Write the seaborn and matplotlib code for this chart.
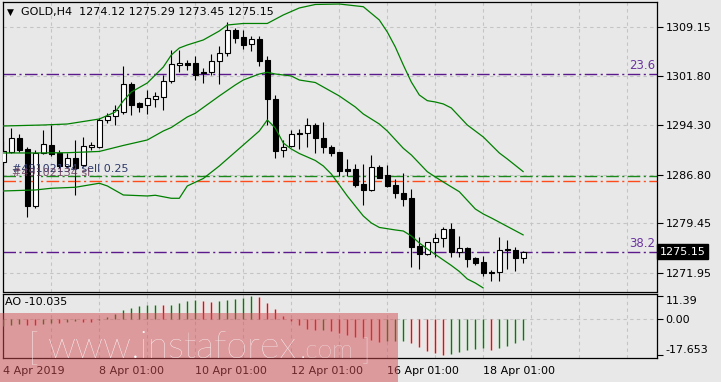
import numpy as np
import pandas as pd
import matplotlib
matplotlib.use("Agg")
import matplotlib.pyplot as plt
import seaborn as sns
from matplotlib.patches import Rectangle

sns.set_style("white")
plt.rcParams['font.family'] = ['DejaVu Sans']

# ---------------- data ----------------
opens = [1288.78, 1290.30, 1292.33, 1290.66, 1282.06, 1290.14, 1291.31, 1290.14, 1288.13, 1289.29,
         1288.28, 1291.08, 1291.05, 1295.10, 1295.71, 1296.36, 1300.56, 1297.63, 1297.37, 1298.33,
         1298.63, 1301.06, 1303.39, 1303.69, 1303.74, 1302.38, 1302.30, 1304.00, 1305.21, 1308.74,
         1307.61, 1306.57, 1307.35, 1304.16, 1298.28, 1290.48, 1291.16, 1293.18, 1293.08, 1294.34,
         1292.33, 1291.05, 1290.25, 1287.63, 1287.67, 1285.40, 1284.49, 1287.98, 1286.76, 1285.25,
         1284.08, 1283.23, 1276.00, 1274.74, 1276.56, 1277.17, 1278.58, 1275.05, 1275.65, 1274.14,
         1273.53, 1272.06, 1272.01, 1275.44, 1275.39, 1274.12]
highs = [1291.92, 1293.89, 1292.98, 1291.05, 1290.55, 1293.58, 1294.34, 1290.55, 1290.10, 1292.07,
         1292.57, 1291.81, 1295.40, 1296.12, 1297.37, 1303.29, 1300.91, 1297.87, 1299.65, 1299.39,
         1301.92, 1305.71, 1305.71, 1304.20, 1304.80, 1303.03, 1305.10, 1306.39, 1310.00, 1309.00,
         1308.70, 1307.79, 1307.83, 1304.77, 1298.89, 1292.07, 1293.51, 1293.69, 1295.36, 1294.60,
         1294.75, 1291.31, 1290.25, 1289.19, 1288.43, 1288.43, 1289.80, 1288.28, 1288.28, 1286.11,
         1287.02, 1284.60, 1277.32, 1276.65, 1277.93, 1278.84, 1279.53, 1277.52, 1275.80, 1274.29,
         1274.49, 1272.36, 1277.32, 1276.91, 1275.80, 1275.29]
lows = [1288.28, 1290.10, 1290.30, 1280.35, 1281.76, 1289.95, 1289.64, 1287.82, 1287.82, 1283.73,
        1287.98, 1290.55, 1290.81, 1294.69, 1294.34, 1296.01, 1295.86, 1296.36, 1296.01, 1297.12,
        1296.62, 1300.66, 1302.42, 1302.68, 1301.16, 1300.66, 1301.92, 1300.48, 1304.73, 1306.70,
        1305.86, 1305.56, 1303.24, 1294.34, 1289.29, 1289.49, 1291.01, 1290.66, 1290.96, 1290.14,
        1290.14, 1289.64, 1286.61, 1286.61, 1284.99, 1282.22, 1284.38, 1286.26, 1284.90, 1283.32,
        1282.06, 1272.86, 1272.51, 1274.64, 1274.29, 1275.90, 1274.29, 1274.29, 1272.77, 1273.12,
        1271.45, 1270.74, 1270.74, 1272.47, 1272.26, 1273.45]
closes = [1290.45, 1292.33, 1290.55, 1282.06, 1290.14, 1291.46, 1289.95, 1288.13, 1289.34, 1287.78,
          1291.16, 1291.24, 1295.10, 1295.71, 1296.62, 1300.56, 1297.37, 1297.03, 1298.39, 1298.74,
          1301.06, 1303.59, 1303.79, 1303.48, 1301.92, 1302.15, 1304.04, 1305.26, 1308.70, 1307.48,
          1306.47, 1307.35, 1304.09, 1298.21, 1290.40, 1290.93, 1292.98, 1292.93, 1294.34, 1292.42,
          1290.96, 1290.14, 1287.42, 1287.37, 1285.25, 1284.49, 1287.93, 1286.38, 1285.10, 1283.99,
          1283.17, 1275.90, 1274.74, 1276.56, 1277.17, 1278.53, 1275.05, 1275.65, 1274.08, 1273.47,
          1271.86, 1271.86, 1275.39, 1275.35, 1274.12, 1275.15]

ao_values = [-3.4, -2.8, -2.3, -2.6, -2.9, -2.2, -1.6, -1.8, -1.3, -1.0, -1.2, -1.3,
             -0.3, 1.3, 2.8, 4.5, 5.4, 6.4, 6.9, 7.2, 6.8, 7.1, 7.8, 8.8,
             9.4, 9.1, 8.6, 8.9, 9.5, 10.0, 10.6, 11.39, 11.0, 8.0, 5.0, 1.8,
             -0.8, -3.0, -4.6, -5.3, -5.1, -5.9, -6.8, -7.6, -8.6, -9.3, -10.3, -11.0,
             -10.8, -10.6, -10.4, -11.6, -13.4, -15.3, -16.2, -17.653, -16.8, -15.9, -15.0, -14.3,
             -14.0, -14.9, -13.8, -12.9, -11.5, -10.035]

upper_idx = [0, 5, 8, 12, 14, 15, 16, 18, 20, 21, 22, 23, 25, 27, 28, 30, 33, 35, 37, 39, 42,
             45, 47, 48, 49, 50, 51, 52, 53, 54, 55, 56, 58, 60, 62, 63, 65]
upper_vals = [1294.19, 1294.34, 1294.49, 1295.25, 1296.31, 1298.00, 1299.34, 1300.71, 1303.13,
              1304.95, 1306.01, 1306.47, 1307.23, 1308.59, 1309.50, 1309.73, 1309.73, 1311.02,
              1312.08, 1312.61, 1312.68, 1312.27, 1310.26, 1308.44, 1306.17, 1303.44, 1300.86,
              1298.89, 1298.03, 1297.83, 1297.53, 1296.92, 1294.34, 1292.52, 1290.10, 1289.19, 1287.26]
middle_idx = [0, 4, 8, 12, 15, 18, 20, 21, 23, 24, 27, 29, 30, 32, 33, 34, 36, 37, 39, 40, 42,
              44, 45, 47, 48, 50, 51, 53, 54, 55, 57, 59, 60, 61, 65]
middle_vals = [1290.10, 1290.10, 1290.14, 1290.33, 1291.24, 1292.07, 1293.43, 1293.96, 1295.56,
               1296.12, 1298.74, 1300.41, 1301.16, 1302.07, 1302.33, 1302.07, 1301.77, 1301.16,
               1300.78, 1300.10, 1298.74, 1297.07, 1296.01, 1294.49, 1293.43, 1290.81, 1289.80,
               1287.26, 1286.46, 1285.70, 1284.23, 1281.61, 1280.85, 1280.25, 1277.67]
lower_idx = [0, 4, 6, 9, 12, 13, 15, 18, 19, 21, 22, 23, 25, 27, 29, 31, 32, 33, 34, 35, 36, 37,
             39, 40, 41, 42, 43, 44, 45, 46, 47, 49, 50, 51, 52, 53, 54, 55, 56, 57, 58, 59, 60]
lower_vals = [1284.34, 1284.49, 1284.75, 1284.90, 1285.51, 1285.10, 1283.73, 1283.58, 1283.69,
              1283.23, 1283.23, 1285.10, 1286.23, 1288.13, 1290.25, 1292.37, 1293.43, 1295.10,
              1293.89, 1291.61, 1290.70, 1290.02, 1288.96, 1288.13, 1286.91, 1285.25, 1283.58,
              1282.06, 1280.55, 1279.49, 1278.81, 1278.43, 1278.27, 1277.52, 1276.46, 1275.55,
              1274.71, 1273.88, 1273.05, 1272.14, 1271.00, 1270.39, 1269.63]

price_ticks = [1309.15, 1301.80, 1294.30, 1286.80, 1279.45, 1271.95]
price_labels = ["1309.15", "1301.80", "1294.30", "1286.80", "1279.45", "1271.95"]
ao_ticks = [11.39, 0.0, -17.653]
ao_labels = ["11.39", "0.00", "-17.653"]
date_idx = [0, 12, 24, 36, 48, 60]
date_labels = ["4 Apr 2019", "8 Apr 01:00", "10 Apr 01:00", "12 Apr 01:00", "16 Apr 01:00", "18 Apr 01:00"]
fib_levels = [1302.07, 1275.09]
fib_labels = ["23.6", "38.2"]
order_level = 1286.61
stop_level = 1285.85
last_price = 1275.15
title_text = "GOLD,H4  1274.12 1275.29 1273.45 1275.15"
ao_text = "AO -10.035"
order_text = "#49102134 sell 0.25"
order_text2 = "#49102134 sl"

# ---------------- layout ----------------
W, H = 721, 382
BG = "#e8e8e8"
GRID = "#c4c4c4"
fig = plt.figure(figsize=(W / 100, H / 100), dpi=100, facecolor=BG)


def frame(x0, y0, x1, y1):
    return [x0 / W, 1 - y1 / H, (x1 - x0) / W, (y1 - y0) / H]


ax = fig.add_axes(frame(2.7, 1.7, 657.3, 291.5), facecolor=BG)
ax2 = fig.add_axes(frame(2.7, 293.5, 657.3, 358.3), facecolor=BG, sharex=ax)

n = len(opens)
idx = np.arange(n)
df = pd.DataFrame({"i": idx, "o": opens, "h": highs, "l": lows, "c": closes, "ao": ao_values})

ax.set_xlim(-0.075, 81.75)
ax.set_ylim(1269.10, 1313.03)
ax2.set_ylim(-19.03, 12.59)

# grid
for g in range(0, 80, 6):
    for a in (ax, ax2):
        a.axvline(g, color=GRID, lw=0.8, dashes=(3, 3), zorder=0.5)
for p in price_ticks:
    ax.axhline(p, color=GRID, lw=0.8, dashes=(3, 3), zorder=0.5)
ax2.axhline(0, color=GRID, lw=0.8, dashes=(3, 3), zorder=0.5)

# fib and order lines
DD = (9, 2.5, 1.5, 2.5)
for lv, lab in zip(fib_levels, fib_labels):
    ax.axhline(lv, color="#5a1a8c", lw=1.0, dashes=DD, zorder=1)
    ax.text(81.5, lv + 0.35, lab, color="#6b35a0", fontsize=8.5, ha="right", va="bottom", zorder=6)
ax.axhline(order_level, color="#1a8a1a", lw=1.0, dashes=DD, zorder=1)
ax.axhline(stop_level, color="#ff4a1a", lw=1.0, dashes=DD, zorder=1)

# candles
ax.vlines(df["i"], df["l"], df["h"], color="black", lw=0.8, zorder=3)
body_bottom = np.minimum(df["o"], df["c"])
body_h = np.maximum(np.abs(df["c"] - df["o"]), 0.12)
fills = ["white" if c >= o else "black" for o, c in zip(opens, closes)]
ax.bar(df["i"], body_h, bottom=body_bottom, width=0.6, color=fills, edgecolor="black",
       linewidth=0.8, zorder=4)

# Bollinger bands
for bi, bv in ((upper_idx, upper_vals), (middle_idx, middle_vals), (lower_idx, lower_vals)):
    sns.lineplot(x=bi, y=bv, ax=ax, color="#008000", linewidth=0.9, zorder=5, estimator=None)

# AO histogram
ao_colors = ["#008000"] + ["#008000" if ao_values[k] >= ao_values[k - 1] else "#ff0000"
                           for k in range(1, n)]
ax2.vlines(df["i"], 0, df["ao"], colors=ao_colors, lw=1.0, zorder=3)

# axes styling
for a in (ax, ax2):
    for s in a.spines.values():
        s.set_color("black")
        s.set_linewidth(0.9)
    a.set_xlabel("")
    a.set_ylabel("")
    a.yaxis.tick_right()

ax.set_yticks(price_ticks)
ax.set_yticklabels(price_labels)
ax.tick_params(axis="y", direction="out", length=4, width=0.8, pad=2, labelsize=8, colors="black")
ax.tick_params(axis="x", bottom=False, labelbottom=False)

ax2.set_yticks(ao_ticks)
ax2.set_yticklabels(ao_labels)
ax2.tick_params(axis="y", direction="out", length=4, width=0.8, pad=2, labelsize=8, colors="black")
tl = ax2.get_yticklabels()
tl[0].set_va("top")
tl[2].set_va("bottom")

ax2.set_xticks(date_idx)
ax2.set_xticklabels(date_labels)
ax2.tick_params(axis="x", direction="out", length=4, width=0.8, pad=1.5, labelsize=8, colors="black")
for lab in ax2.get_xticklabels():
    lab.set_ha("left")

# current price box
ax.text(1.004, last_price, "1275.15", transform=ax.get_yaxis_transform(), color="white",
        fontsize=8, ha="left", va="center", zorder=10,
        bbox=dict(boxstyle="square,pad=0.22", fc="black", ec="black"), clip_on=False)

# header texts
fig.text(7 / W, 1 - 12 / H, "\u25bc", fontsize=6.5, color="black", va="center", ha="left")
fig.text(21 / W, 1 - 12 / H, title_text, fontsize=8, color="black", va="center", ha="left")
fig.text(5 / W, 1 - 302 / H, ao_text, fontsize=8, color="black", va="center", ha="left")
fig.text(12 / W, 1 - 169 / H, order_text, fontsize=8, color="#2e3a6a", va="center", ha="left")
fig.text(12 / W, 1 - 173 / H, order_text2, fontsize=8, color="#6a3a5a", va="center", ha="left",
         alpha=0.85)

# watermark
fig.add_artist(Rectangle((0, 0), 398 / W, 69 / H, transform=fig.transFigure,
                         facecolor=(0.82, 0.30, 0.33, 0.5), edgecolor="none", zorder=20))
wm = dict(color="white", va="baseline", ha="left", zorder=21, family=["Lato", "Open Sans", "DejaVu Sans"])
fig.text(28 / W, 1 - 360 / H, "[", fontsize=27, fontweight="light", **wm)
fig.text(48 / W, 1 - 358 / H, "www.instaforex", fontsize=27, fontweight="light", **wm)
fig.text(300 / W, 1 - 358 / H, ".com", fontsize=19, fontweight="light", **wm)
fig.text(362 / W, 1 - 360 / H, "]", fontsize=21, fontweight="light", **wm)

fig.savefig("out.png", dpi=100, facecolor=BG)
